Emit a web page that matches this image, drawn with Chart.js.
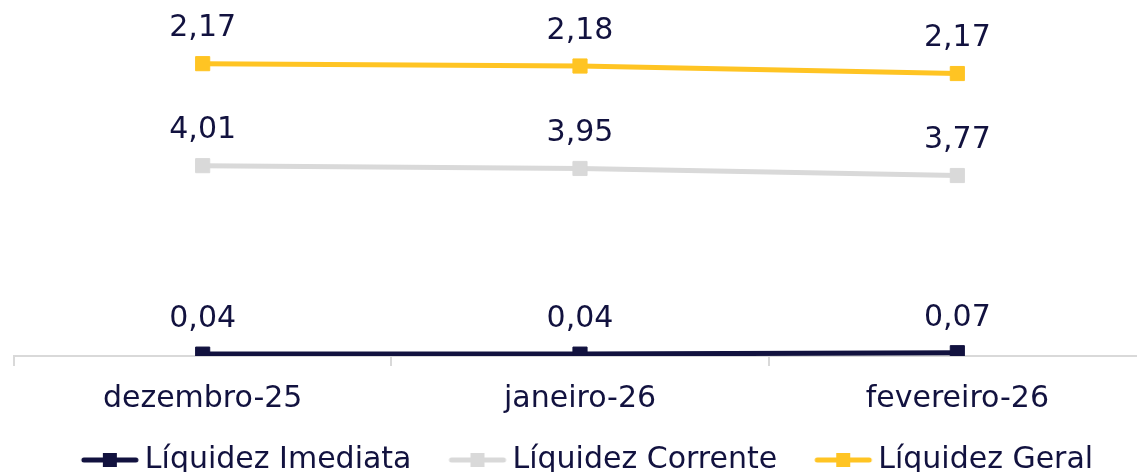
<!DOCTYPE html>
<html>
<head>
<meta charset="utf-8">
<script src="https://cdn.jsdelivr.net/npm/chart.js@4.4.1/dist/chart.umd.min.js"></script>
<style>
  html, body { margin: 0; padding: 0; background: #fff; overflow: hidden; }
  #wrap { width: 1157px; height: 472px; }
</style>
</head>
<body>
<div id="wrap"><canvas id="liquidezchart"></canvas></div>
<script>
// Data block
const months = ['dezembro-25', 'janeiro-26', 'fevereiro-26'];
const liquidezImediata = [0.04, 0.04, 0.07];
const liquidezCorrente = [4.01, 3.95, 3.77];
const liquidezGeral = [2.17, 2.18, 2.17];

const navy = '#12123f';
const grey = '#d9d9d9';
const yellow = '#ffc423';
const fontFamily = '"DejaVu Sans", sans-serif';
const fontSize = 30;

// Legend marker: line with square in the middle (drawn on the right part so it sits close to the text)
function legendMarker(color) {
    const c = document.createElement('canvas');
    c.width = 76;
    c.height = 16;
    const ctx = c.getContext('2d');
    ctx.strokeStyle = color;
    ctx.lineWidth = 5;
    ctx.lineCap = 'round';
    ctx.beginPath();
    ctx.moveTo(20, 8);
    ctx.lineTo(72, 8);
    ctx.stroke();
    ctx.fillStyle = color;
    ctx.fillRect(39, 1, 14, 14);
    return c;
}

// Value labels plugin block
const valueLabels = {
    id: 'valueLabels',
    afterDatasetsDraw(chart) {
        const ctx = chart.ctx;
        ctx.save();
        ctx.font = fontSize + 'px ' + fontFamily;
        ctx.fillStyle = navy;
        ctx.textAlign = 'center';
        ctx.textBaseline = 'middle';
        chart.data.datasets.forEach((ds, i) => {
            chart.getDatasetMeta(i).data.forEach((pt, j) => {
                ctx.fillText(ds.data[j].toFixed(2).replace('.', ','), pt.x, pt.y - 35);
            });
        });
        ctx.restore();
    }
};

// Legend height plugin block
const legendHeight = {
    id: 'legendHeight',
    beforeInit(chart) {
        const fitValue = chart.legend.fit;
        chart.legend.fit = function fit() {
            fitValue.bind(chart.legend)();
            return this.height = 57;
        };
    }
};

function series(label, data, color) {
    return {
        label: label,
        data: data,
        borderColor: color,
        backgroundColor: color,
        borderWidth: 5,
        pointStyle: 'rect',
        pointRadius: 10,
        pointHoverRadius: 10,
        pointBorderWidth: 1,
        tension: 0,
        fill: false
    };
}

// Config block
const liquidezConfig = {
    type: 'line',
    data: {
        labels: months,
        datasets: [
            series('Líquidez Imediata', liquidezImediata, navy),
            series('Líquidez Corrente', liquidezCorrente, grey),
            series('Líquidez Geral', liquidezGeral, yellow)
        ]
    },
    options: {
        responsive: true,
        maintainAspectRatio: false,
        animation: false,
        layout: { padding: { left: 14, right: 4, top: 27, bottom: 0 } },
        scales: {
            x: {
                offset: true,
                afterFit(scale) { scale.height = 59; },
                grid: {
                    offset: true,
                    drawOnChartArea: false,
                    color: grey,
                    lineWidth: 2,
                    tickLength: 10
                },
                border: { color: grey, width: 2 },
                ticks: {
                    color: navy,
                    font: { family: fontFamily, size: fontSize },
                    padding: 15
                }
            },
            y: {
                display: false,
                stacked: true,
                min: 0,
                max: 7
            }
        },
        plugins: {
            legend: {
                position: 'bottom',
                onClick: null,
                labels: {
                    color: navy,
                    font: { family: fontFamily, size: fontSize },
                    usePointStyle: true,
                    pointStyleWidth: 56,
                    padding: 30,
                    generateLabels(chart) {
                        return chart.data.datasets.map((ds, i) => ({
                            text: ds.label,
                            fillStyle: ds.borderColor,
                            strokeStyle: ds.borderColor,
                            pointStyle: legendMarker(ds.borderColor),
                            datasetIndex: i,
                            hidden: false,
                            fontColor: navy
                        }));
                    }
                }
            },
            tooltip: { enabled: false }
        }
    },
    plugins: [valueLabels, legendHeight]
};

// render / init block
const liquidezChart = new Chart(
    document.getElementById('liquidezchart'),
    liquidezConfig
);
</script>
</body>
</html>
